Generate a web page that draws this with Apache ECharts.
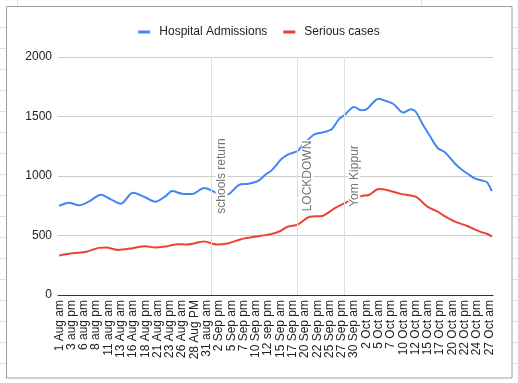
<!DOCTYPE html>
<html>
<head>
<meta charset="utf-8">
<script src="https://cdn.jsdelivr.net/npm/echarts@6/dist/echarts.min.js"></script>
<style>
html,body{margin:0;padding:0;background:#fff;}
#c{width:518px;height:383px;}
</style>
</head>
<body>
<div id="c"></div>
<script>
// Tick labels shown every 5th half-day point
const tickLabels = ['1 Aug am','3 aug pm','6 aug am','8 aug pm','11 aug am','13 Aug am','16 Aug am','18 Aug pm','21 Aug am','23 Aug pm','26 Aug am','28 Aug PM','31 aug am','2 Sep pm','5 Sep am','7 Sep pm','10 Sep am','12 sep pm','15 Sep am','17 Sep pm','20 Sep am','22 Sep pm','25 Sep am','27 Sep pm','30 Sep am','2 Oct pm','5 Oct am','7 Oct pm','10 Oct am','12 Oct pm','15 Oct am','17 Oct pm','20 Oct am','22 Oct pm','24 Oct pm','27 Oct am'];
const pointCount = 177;
const labelStep = 5;

// [category index, value]
const hospitalAdmissions = [[0,750],[4,776],[8,754],[12,784],[17,843],[21,804],[25,767],[30,859],[35,821],[39,784],[43,826],[46,873],[50,851],[54,848],[59,899],[64,857],[66,840],[69,848],[73,924],[77,935],[81,960],[84,1013],[86,1040],[88,1083],[90,1135],[93,1180],[97,1210],[99,1259],[101,1300],[104,1351],[107,1365],[109,1376],[111,1395],[114,1482],[116,1510],[120,1580],[123,1552],[125,1560],[130,1650],[133,1630],[136,1605],[140,1533],[143,1560],[145,1542],[148,1430],[151,1330],[154,1235],[157,1198],[161,1105],[164,1050],[167,1008],[169,980],[172,962],[174,948],[176,873]];
const seriousCases = [[0,332],[6,352],[11,363],[16,396],[19,399],[24,379],[29,390],[35,410],[39,399],[43,407],[45,415],[48,427],[52,424],[59,449],[64,424],[69,435],[74,469],[82,497],[86,511],[90,538],[93,575],[97,592],[102,658],[107,664],[112,728],[117,781],[120,805],[123,832],[126,840],[130,890],[134,878],[139,850],[145,826],[150,740],[154,700],[157,660],[161,616],[166,580],[169,552],[172,526],[174,515],[176,491]];

const annotations = [
  {idx: 62, text: 'schools return'},
  {idx: 97, text: 'LOCKDOWN'},
  {idx: 116, text: 'Yom Kippur'}
];

const categories = [];
for (let i = 0; i < pointCount; i++) {
  categories.push(i % labelStep === 0 && tickLabels[i / labelStep] !== undefined ? tickLabels[i / labelStep] : '');
}

const FONT = '"Liberation Sans", Arial, sans-serif';

// spreadsheet background cells + chart border
const graphics = [];
for (let y = 27; y < 378; y += 21) {
  graphics.push({type:'line', shape:{x1:0,y1:y+0.5,x2:6,y2:y+0.5}, style:{stroke:'#e2e3e3',lineWidth:1}, silent:true});
  graphics.push({type:'line', shape:{x1:512,y1:y+0.5,x2:518,y2:y+0.5}, style:{stroke:'#e2e3e3',lineWidth:1}, silent:true});
}
[17, 421].forEach(x => graphics.push({type:'line', shape:{x1:x+0.5,y1:0,x2:x+0.5,y2:7}, style:{stroke:'#e2e3e3',lineWidth:1}, silent:true}));
graphics.push({type:'rect', shape:{x:6.5,y:6.5,width:505.5,height:371.5}, style:{stroke:'#9e9e9e',fill:'none',lineWidth:1}, silent:true});

const chart = echarts.init(document.getElementById('c'), null, {renderer:'canvas'});
chart.setOption({
  animation: false,
  backgroundColor: '#fff',
  textStyle: {fontFamily: FONT},
  graphic: graphics,
  legend: {
    top: 21,
    left: 'center',
    icon: 'rect',
    itemWidth: 12,
    itemHeight: 3,
    itemGap: 16,
    textStyle: {fontSize: 12, color: '#222', fontFamily: FONT, padding: [0,0,0,4]},
    data: ['Hospital Admissions', 'Serious cases']
  },
  grid: {left: 58, right: 25, top: 57, bottom: 88, containLabel: false},
  xAxis: {
    type: 'category',
    data: categories,
    boundaryGap: true,
    axisLine: {show: true, lineStyle: {color: '#333', width: 1}},
    axisTick: {show: false},
    splitLine: {show: false},
    axisLabel: {interval: labelStep - 1, rotate: 90, margin: 5, fontSize: 12, color: '#222', fontFamily: FONT}
  },
  yAxis: {
    type: 'value',
    min: 0,
    max: 2000,
    interval: 500,
    axisLine: {show: false},
    axisTick: {show: false},
    splitLine: {lineStyle: {color: '#cccccc', width: 1}},
    axisLabel: {margin: 6, fontSize: 12, color: '#222', fontFamily: FONT, formatter: v => String(v)}
  },
  series: [
    {
      name: 'Hospital Admissions',
      type: 'line',
      data: hospitalAdmissions,
      showSymbol: false,
      symbol: 'none',
      smooth: 0.3,
      color: '#4285F4',
      lineStyle: {width: 2, color: '#4285F4'},
      z: 2
    },
    {
      name: 'Serious cases',
      type: 'line',
      data: seriousCases,
      showSymbol: false,
      symbol: 'none',
      smooth: 0.3,
      color: '#EA4335',
      lineStyle: {width: 2, color: '#EA4335'},
      z: 3
    },
    {
      name: 'annotations',
      type: 'line',
      data: [],
      z: 1,
      markLine: {
        silent: true,
        symbol: 'none',
        animation: false,
        lineStyle: {color: '#e0e0e0', width: 1, type: 'solid'},
        label: {
          show: true,
          position: 'insideMiddleBottom',
          formatter: '{b}',
          fontSize: 12,
          color: '#757575',
          fontFamily: FONT,
          backgroundColor: '#fff',
          padding: [0, 1],
          distance: 4
        },
        data: annotations.map(a => ({xAxis: a.idx, name: a.text}))
      }
    }
  ]
});
</script>
</body>
</html>
